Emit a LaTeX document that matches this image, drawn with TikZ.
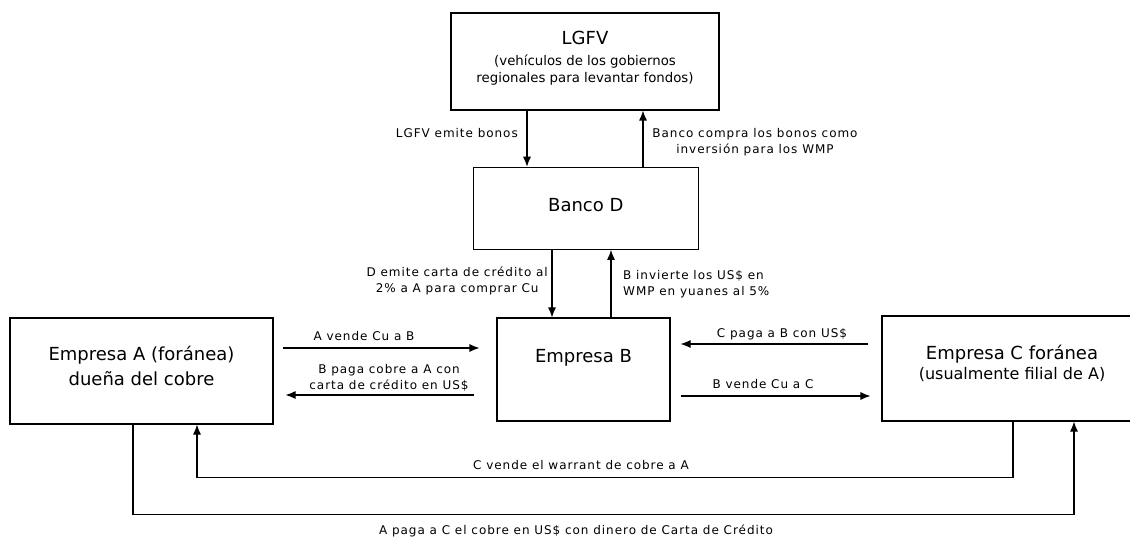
\documentclass[tikz,border=0pt]{standalone}
\usepackage{fontspec}
\setmainfont{DejaVu Sans}
\newfontfamily\etiqfont[LetterSpace=8]{DejaVu Sans}
\usetikzlibrary{arrows.meta}
\tikzset{
caja/.style={draw, line width=1.1pt, inner sep=0pt, align=center, font=\fontsize{18}{25}\selectfont},
flecha/.style={line width=1.1pt, -{Latex[length=10pt,width=8pt]}},
etiq/.style={inner sep=0pt, align=center, font=\etiqfont\fontsize{12}{16}\selectfont}
}
\begin{document}
\begin{tikzpicture}[x=1pt,y=-1pt]
\clip (0,0) rectangle (1130,537);
\node[caja, minimum width=268pt, minimum height=97pt, text depth=9pt, font=\fontsize{13.3}{17}\selectfont] (lgfv) at (585,61.5)
  {{\fontsize{18}{22}\selectfont LGFV}\\[4pt](vehículos de los gobiernos\\regionales para levantar fondos)};
\node[caja, minimum width=225pt, minimum height=82pt, text depth=6pt] (banco) at (585.8,208.3) {Banco D};
\node[caja, minimum width=263pt, minimum height=106pt, text depth=10pt] (empA) at (141.5,371) {Empresa A (foránea)\\dueña del cobre};
\node[caja, minimum width=173pt, minimum height=103pt, text depth=27pt] (empB) at (583.5,369.5) {Empresa B};
\node[caja, minimum width=260pt, minimum height=105pt, text depth=12pt, font=\fontsize{16}{20.5}\selectfont] (empC) at (1012,368.5)
  {{\fontsize{18}{22}\selectfont Empresa C foránea}\\(usualmente filial de A)};
\draw[flecha] ([xshift=-58pt]lgfv.south) -- ([xshift=-58pt]lgfv.south |- banco.north);
\draw[flecha] ([xshift=58pt]lgfv.south |- banco.north) -- ([xshift=58pt]lgfv.south);
\draw[flecha] ([xshift=-31.5pt]empB.north |- banco.south) -- ([xshift=-31.5pt]empB.north);
\draw[flecha] ([xshift=27.5pt]empB.north) -- ([xshift=27.5pt]empB.north |- banco.south);
\draw[flecha, shorten <=9pt, shorten >=17pt] ([yshift=23pt]empA.east) -- ([yshift=23pt]empA.east -| empB.west);
\draw[flecha, shorten <=22pt, shorten >=12pt] ([yshift=-24pt]empA.east -| empB.west) -- ([yshift=-24pt]empA.east);
\draw[flecha, shorten <=13pt, shorten >=10pt] ([yshift=24.5pt]empC.west) -- ([yshift=24.5pt]empC.west -| empB.east);
\draw[flecha, shorten <=10pt, shorten >=11pt] ([yshift=-27.5pt]empC.west -| empB.east) -- ([yshift=-27.5pt]empC.west);
\draw[flecha] ([xshift=-8.5pt]empA.south) -- ++(0,90) -| ([xshift=62pt]empC.south);
\draw[flecha] ([xshift=1pt]empC.south) -- ++(0,56) -| ([xshift=55.5pt]empA.south);
\node[etiq, anchor=east] (emite) at (518,133) {LGFV emite bonos};
\node[etiq] (compra) at (755,142) {Banco compra los bonos como\\inversión para los WMP};
\node[etiq, anchor=east] (carta) at (548,281) {D emite carta de crédito al\\2\% a A para comprar Cu};
\node[etiq, anchor=west, align=left] (invierte) at (623,284) {B invierte los US\$ en\\WMP en yuanes al 5\%};
\node[etiq] (vendeAB) at (364,336) {A vende Cu a B};
\node[etiq] (pagaBA) at (389,378) {B paga cobre a A con\\carta de crédito en US\$};
\node[etiq] (pagaCB) at (782,334) {C paga a B con US\$};
\node[etiq] (vendeBC) at (763,384) {B vende Cu a C};
\node[etiq] (warrant) at (581,465) {C vende el warrant de cobre a A};
\node[etiq] (pagaAC) at (576,531) {A paga a C el cobre en US\$ con dinero de Carta de Crédito};
\end{tikzpicture}
\end{document}
